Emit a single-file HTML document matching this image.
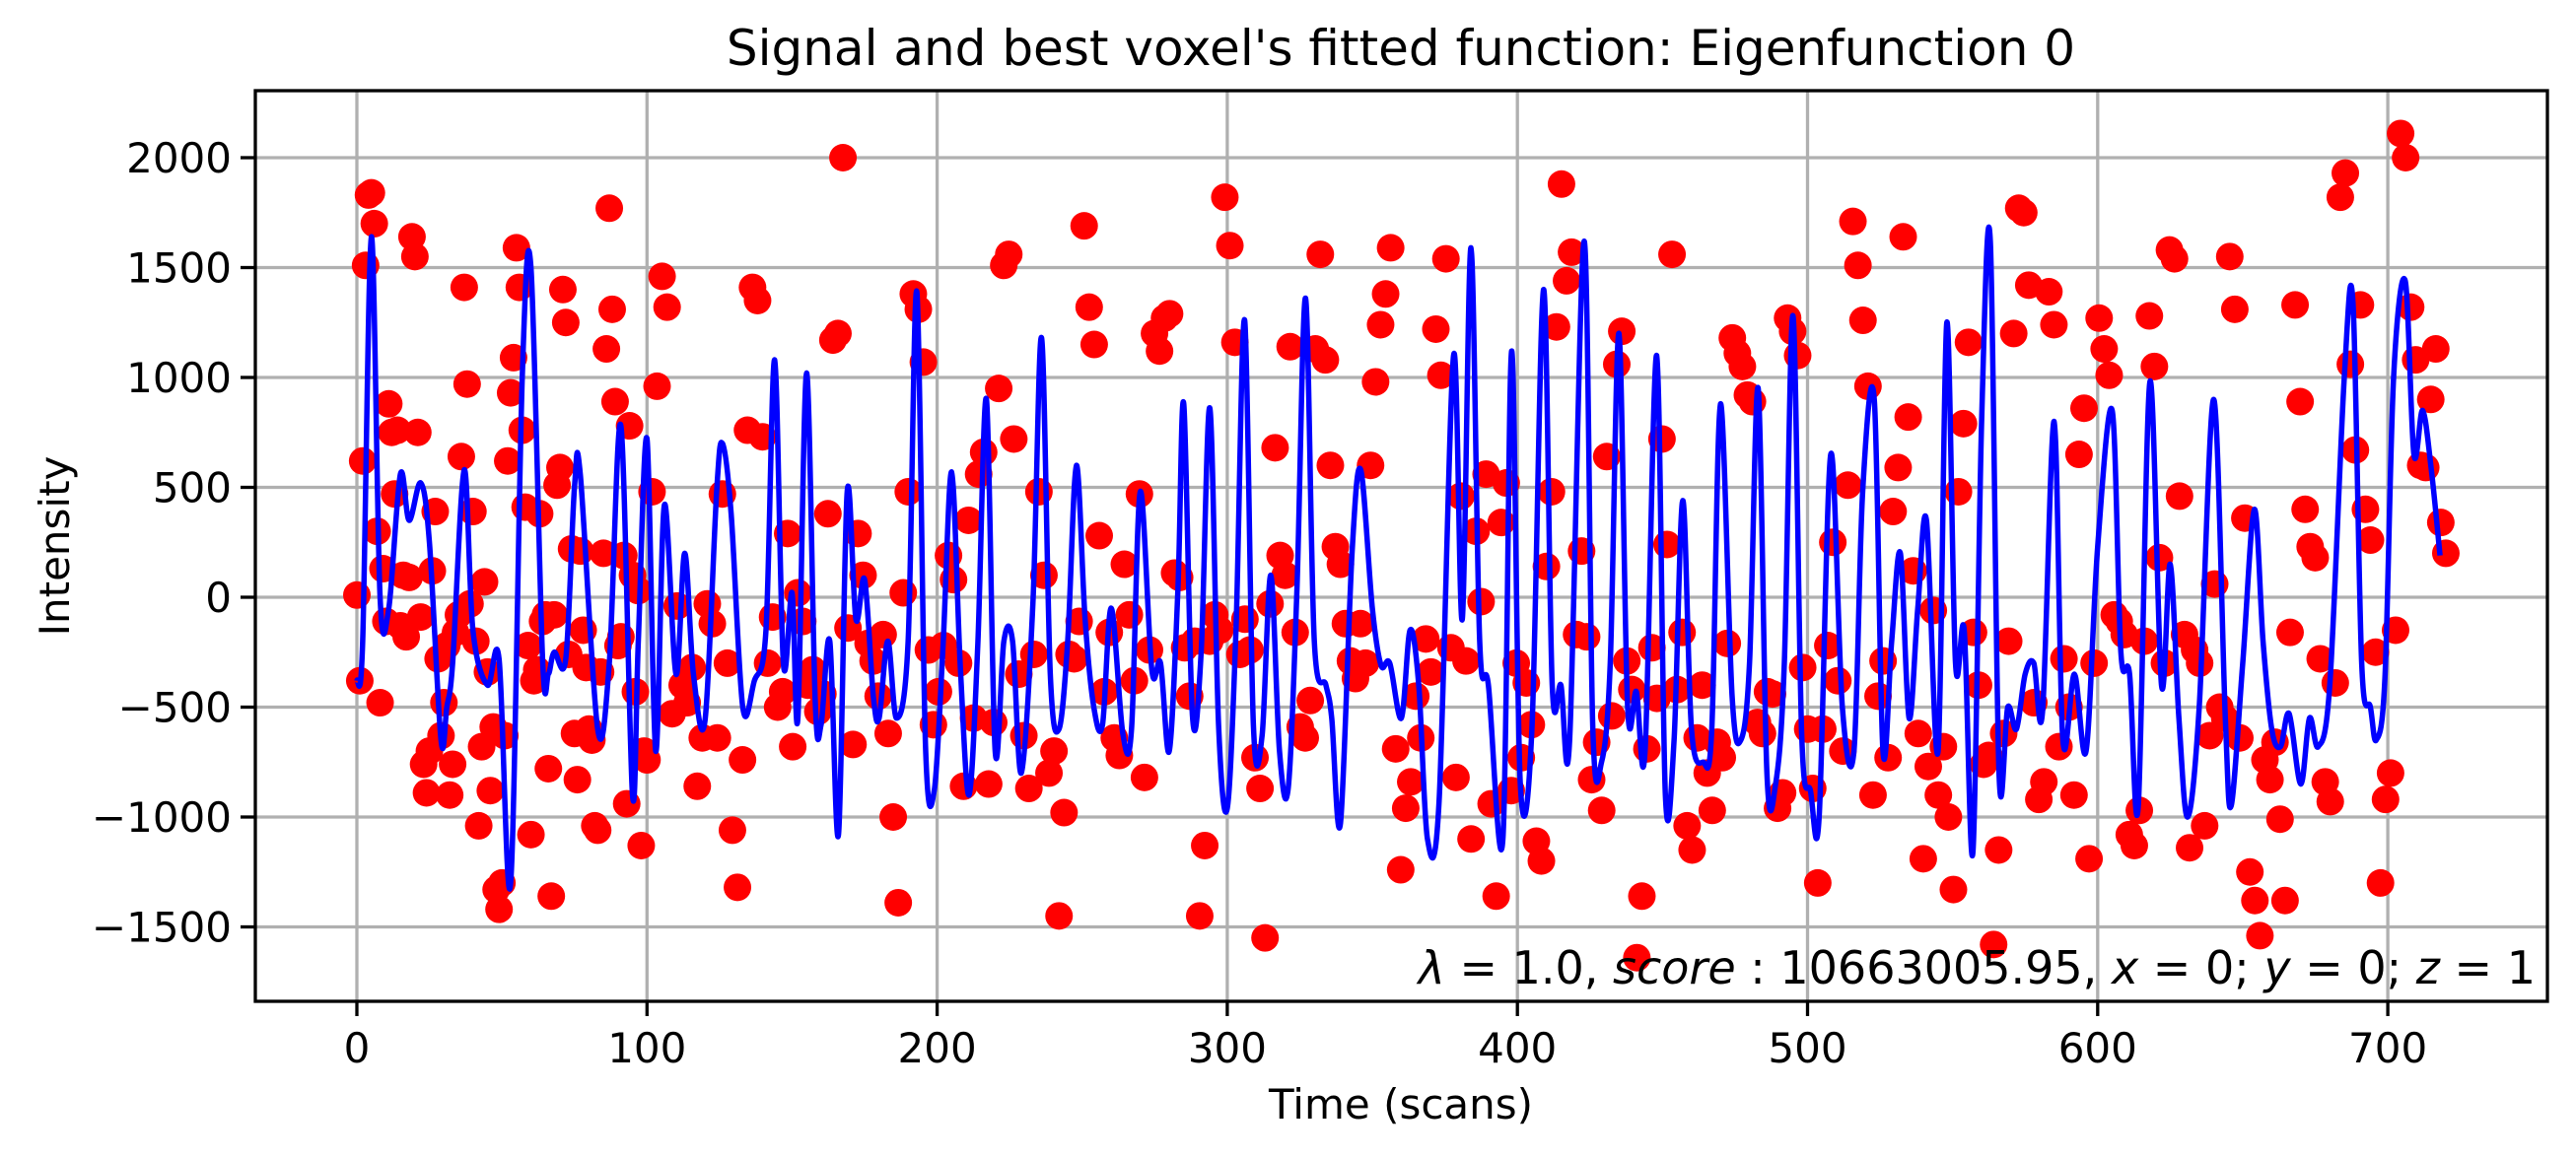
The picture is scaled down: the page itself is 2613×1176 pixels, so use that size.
<!DOCTYPE html>
<html><head><meta charset="utf-8"><style>
html,body{margin:0;padding:0;background:#fff;}
svg{display:block;font-family:"DejaVu Sans","Liberation Sans",sans-serif;}
</style></head><body>
<svg id="chart" width="2613" height="1176" viewBox="0 0 2613 1176" xmlns="http://www.w3.org/2000/svg">
<rect x="0" y="0" width="2613" height="1176" fill="#fff"/>
<text x="1421" y="66" font-size="50" text-anchor="middle">Signal and best voxel's fitted function: Eigenfunction 0</text>
<g id="grid"></g>
<g id="ticks"></g>
<g id="plot"></g>
<rect x="259" y="92" width="2325" height="924" fill="none" stroke="#000" stroke-width="3.3"/>
<text x="2572" y="998" font-size="46" text-anchor="end"><tspan font-style="italic">λ</tspan> = 1.0, <tspan font-style="italic">score</tspan> : 10663005.95, <tspan font-style="italic">x</tspan> = 0; <tspan font-style="italic">y</tspan> = 0; <tspan font-style="italic">z</tspan> = 1</text>
<text x="1421" y="1135" font-size="42" text-anchor="middle">Time (scans)</text>
<text x="0" y="0" font-size="42" text-anchor="middle" transform="translate(70,554) rotate(-90)">Intensity</text>
</svg>
<script>
const xTicks = [0,100,200,300,400,500,600,700];
const yTicks = [-1500,-1000,-500,0,500,1000,1500,2000];
const yTickLabels = ["\u22121500","\u22121000","\u2212500","0","500","1000","1500","2000"];
const intensity = [10,-380,620,1510,1830,1840,1700,300,-480,130,-110,880,750,470,760,-130,100,-180,90,1640,1550,750,-90,-760,-890,-700,120,390,-280,-630,-480,-220,-900,-760,-160,-80,640,1410,970,-30,390,-200,-1040,-680,70,-340,-880,-590,-1330,-1420,-1300,-630,620,930,1090,1590,1410,760,410,-220,-1080,-380,-330,380,-110,-80,-780,-1360,-80,510,590,1400,1250,-260,220,-620,-830,210,-150,-320,-600,-650,-1040,-1060,-340,200,1130,1770,1310,890,-220,-180,190,-940,780,100,-430,30,-1130,-700,-740,480,960,1460,1320,-530,-40,-400,-480,-320,-860,-640,-30,-120,-640,470,-300,-1060,-1320,-740,760,1410,1350,730,-300,-90,-500,-430,290,-680,20,-110,-400,-330,-520,-440,380,1170,1200,2000,-140,-670,290,100,-210,-290,-450,-170,-620,-1000,-1390,20,480,1380,1310,1070,-240,-580,-430,-220,190,80,-300,-860,350,-550,560,660,-850,-570,950,1510,1560,720,-350,-630,-870,-260,480,100,-800,-700,-1450,-980,-260,-280,-110,1690,1320,1150,280,-430,-160,-640,-720,150,-80,-380,470,-820,-240,1200,1120,1270,1290,110,90,-230,-450,-200,-1450,-1130,-200,-80,-150,1820,1600,1160,-260,-100,-240,-730,-870,-1550,-30,680,190,100,1140,-160,-590,-640,-470,1130,1560,1080,600,230,150,-120,-290,-370,-120,-300,600,980,1240,1380,1590,-690,-1240,-960,-840,-450,-640,-190,-340,1220,1010,1540,-230,-820,460,-290,-1100,300,-20,560,-940,-1360,340,520,-880,-300,-730,-390,-580,-1110,-1200,140,480,1230,1880,1440,1570,-170,210,-180,-830,-660,-970,640,-540,1060,1210,-290,-420,-1640,-1360,-690,-230,-460,720,240,1560,-420,-160,-1040,-1150,-640,-400,-800,-970,-660,-730,-210,1180,1110,1050,920,890,-570,-620,-430,-440,-960,-890,1270,1210,1100,-320,-600,-870,-1300,-600,-220,250,-380,-700,510,1710,1510,1260,960,-900,-450,-290,-730,390,590,1640,820,120,-620,-1190,-770,-60,-900,-680,-1000,-1330,480,790,1160,-160,-400,-760,-720,-1580,-1150,-620,-200,1200,1770,1750,1420,-480,-920,-840,1390,1240,-680,-280,-500,-900,650,860,-1190,-300,1270,1130,1010,-80,-110,-170,-1080,-1130,-970,-200,1280,1050,180,-300,1580,1540,460,-170,-1140,-240,-300,-1040,-630,60,-500,-550,1550,1310,-640,360,-1250,-1380,-1540,-740,-830,-660,-1010,-1380,-160,1330,890,400,230,180,-280,-840,-930,-390,1820,1930,1060,670,1330,400,260,-250,-1300,-920,-800,-150,2110,2000,1320,1080,600,590,900,1130,340,200];
const fitKnotScans = [0,2,5,8,11,15,18,22,25,29,31,33,37,40,45,49,53,57,60,64,66,68,72,75,77,83,87,91,95,97,100,103,106,110,113,116,120,124,126,129,133,137,141,144,147,150,152,155,158,160,163,166,169,172,175,178,180,183,186,190,193,196,199,202,205,208,211,214,217,220,223,226,229,233,236,239,242,245,248,251,254,257,260,264,267,270,274,277,280,283,285,288,291,294,297,300,303,306,309,312,315,318,321,324,327,330,334,336,339,343,346,350,353,356,360,363,366,369,373,378,381,384,387,390,395,398,401,405,409,412,415,418,423,426,429,432,435,438,441,444,448,451,454,457,460,464,467,470,474,477,480,483,486,489,492,495,498,501,504,508,512,516,519,523,526,529,532,535,538,541,545,548,551,554,557,560,563,566,569,572,575,578,581,585,588,592,596,600,605,608,611,614,618,622,625,628,631,635,640,644,646,650,654,657,660,663,666,670,673,676,680,685,688,691,694,696,699,702,706,709,712,715,718];
const fitKnotValues = [-380,-200,1640,0,-50,560,350,520,250,-650,-500,-300,580,-150,-400,-280,-1300,1000,1500,-280,-350,-250,-280,500,560,-600,-300,780,-900,-200,720,-700,420,-350,200,-350,-560,480,700,380,-500,-380,-150,1080,-300,20,-550,1020,-480,-580,-200,-1080,480,-100,80,-450,-550,-200,-550,-200,1390,-680,-880,-230,570,-320,-900,-220,900,-700,-200,-200,-800,-30,1180,-350,-600,-200,600,-100,-500,-580,-50,-620,-600,480,-330,-300,-700,40,880,-540,-250,860,-580,-960,-150,1260,-580,-630,100,-700,-870,30,1360,-200,-400,-550,-1030,200,580,-50,-310,-300,-550,-150,-400,-1100,-930,1100,-100,1590,-200,-400,-1100,1120,-850,-600,1400,-400,-400,-650,1620,-600,-750,-300,1200,-500,-430,-700,1100,-900,-650,440,-600,-750,-600,880,-450,-650,-300,950,-800,-850,-300,1280,-630,-880,-1000,650,-500,-700,480,900,-700,-200,200,-550,-50,350,-700,1250,-300,-150,-1160,800,1620,-800,-500,-600,-350,-300,-520,800,-650,-350,-700,230,850,-250,-350,-950,980,-400,150,-550,-1000,-500,900,-550,-950,-300,400,-200,-600,-680,-530,-850,-550,-680,-400,1000,1340,-300,-500,-650,-370,1000,1440,650,850,580,190];

const NS='http://www.w3.org/2000/svg';
const L=259,R=2584,T=92,B=1016;
function xScale(v){return 362+v*2.943;}
function yScale(v){return 606-v*0.223;}
function mk(tag,attrs,parent){const e=document.createElementNS(NS,tag);for(const k in attrs)e.setAttribute(k,attrs[k]);parent.appendChild(e);return e;}
const grid=document.getElementById('grid'),ticks=document.getElementById('ticks'),plot=document.getElementById('plot');
xTicks.forEach(t=>{const x=xScale(t);
 const g=mk('line',{x1:x,x2:x,y1:T,y2:B,stroke:'#b0b0b0','stroke-width':3.3},grid);
 
 
 const tk=mk('line',{x1:x,x2:x,y1:B,y2:B+15,stroke:'#000','stroke-width':3.3},ticks);
 
 
 const lb=mk('text',{x:x,y:B+62,'font-size':42,'text-anchor':'middle'},ticks);lb.textContent=String(t);
 
 
});
yTicks.forEach((t,i)=>{const y=yScale(t);
 const g=mk('line',{x1:L,x2:R,y1:y,y2:y,stroke:'#b0b0b0','stroke-width':3.3},grid);
 
 
 const tk=mk('line',{x1:L-15,x2:L,y1:y,y2:y,stroke:'#000','stroke-width':3.3},ticks);
 
 
 const lb=mk('text',{x:L-24,y:y+15,'font-size':42,'text-anchor':'end'},ticks);lb.textContent=yTickLabels[i];
 
 
});
const n=intensity.length;
intensity.forEach((v,i)=>{
 const scan = i<=100 ? i : 100+(i-100)*(620/(n-101));
 const c=mk('circle',{cx:xScale(scan),cy:yScale(v),r:14,fill:'#ff0000'},plot);
 
 
});
const pts=fitKnotScans.map((s,i)=>[xScale(s),yScale(fitKnotValues[i])]);
let d='M'+pts[0][0]+','+pts[0][1];
for(let i=0;i<pts.length-1;i++){
 const p0=pts[Math.max(0,i-1)],p1=pts[i],p2=pts[i+1],p3=pts[Math.min(pts.length-1,i+2)];
 const c1=[p1[0]+(p2[0]-p0[0])/6,p1[1]+(p2[1]-p0[1])/6];
 const c2=[p2[0]-(p3[0]-p1[0])/6,p2[1]-(p3[1]-p1[1])/6];
 d+=' C'+c1[0]+','+c1[1]+' '+c2[0]+','+c2[1]+' '+p2[0]+','+p2[1];
}
const line=mk('path',{d:d,fill:'none',stroke:'#0000ff','stroke-width':5.5,'stroke-linejoin':'round'},plot);


</script>
</body></html>
